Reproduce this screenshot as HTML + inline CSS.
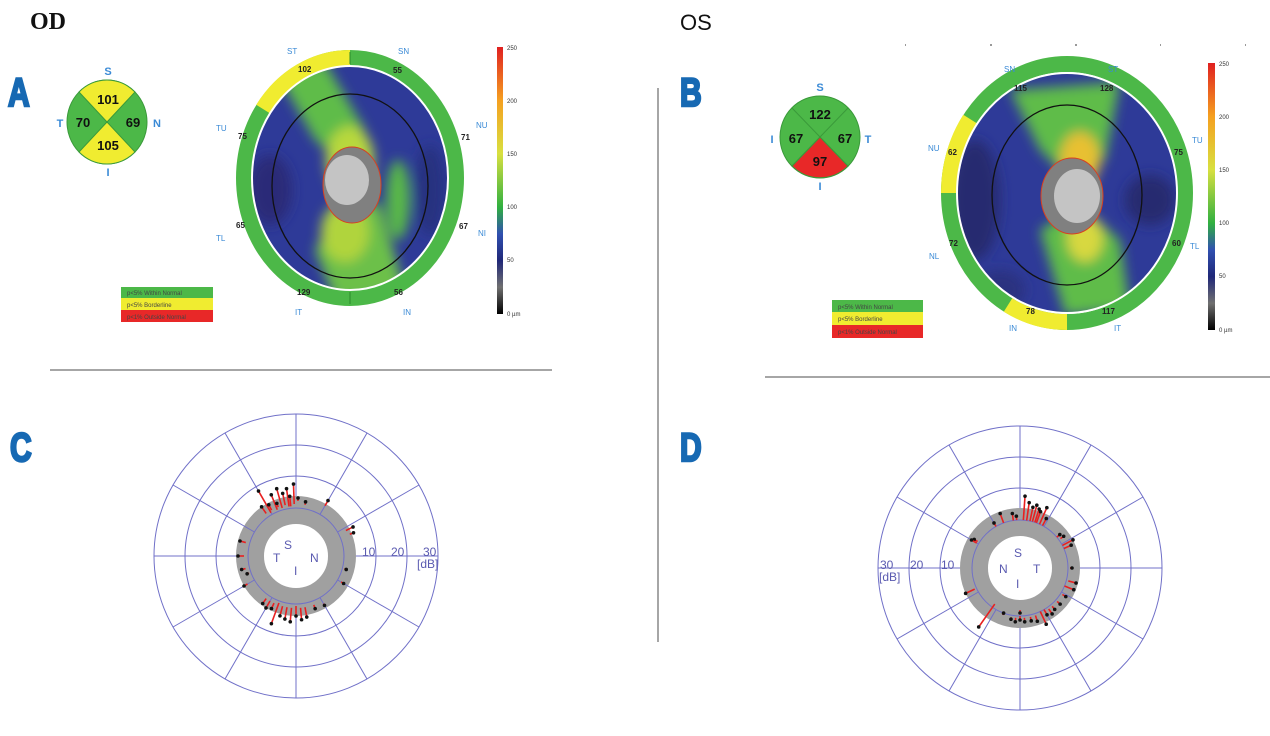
<!DOCTYPE html>
<html><head><meta charset="utf-8"><style>
html,body{margin:0;padding:0;background:#fff;width:1270px;height:736px;overflow:hidden}
svg{display:block}
.lab{font-family:"Liberation Sans Narrow","Liberation Sans",sans-serif;font-weight:bold;fill:#1769b3;stroke:#1769b3;stroke-width:2.5;font-size:40px}
.sm{font-family:"Liberation Sans",sans-serif;font-size:8px;fill:#3a8ad6}
.num{font-family:"Liberation Sans",sans-serif;font-size:8px;fill:#222;font-weight:bold}
.q{font-family:"Liberation Sans",sans-serif;font-size:13px;fill:#111;font-weight:bold;text-anchor:middle}
.ql{font-family:"Liberation Sans",sans-serif;font-size:11px;fill:#3a8ad6;font-weight:bold;text-anchor:middle}
.cb{font-family:"Liberation Sans",sans-serif;font-size:6px;fill:#333}
.pl{font-family:"Liberation Sans",sans-serif;font-size:12px;fill:#5a5ab0}
.lg{font-family:"Liberation Sans",sans-serif;font-size:6px;fill:#444}
</style></head><body>
<svg id="s" width="1270" height="736" viewBox="0 0 1270 736" xmlns="http://www.w3.org/2000/svg">
<defs>
<linearGradient id="cbar" x1="0" y1="0" x2="0" y2="1">
<stop offset="0" stop-color="#e02020"/><stop offset="0.2" stop-color="#f5a020"/><stop offset="0.4" stop-color="#d8e040"/><stop offset="0.6" stop-color="#30b040"/><stop offset="0.7" stop-color="#3050b0"/><stop offset="0.8" stop-color="#202878"/><stop offset="0.9" stop-color="#707070"/><stop offset="1" stop-color="#000"/>
</linearGradient>
<filter id="bl" x="-30%" y="-30%" width="160%" height="160%"><feGaussianBlur stdDeviation="6"/></filter>
<clipPath id="cA"><ellipse cx="350" cy="178" rx="98" ry="112"/></clipPath>
<clipPath id="cB"><ellipse cx="1067" cy="193" rx="110" ry="120"/></clipPath>
</defs>

<text x="30" y="29" font-family="Liberation Serif" font-size="24" font-weight="bold" fill="#111">OD</text>
<text x="680" y="30" font-family="Liberation Sans" font-size="22" fill="#111">OS</text>
<text class="lab" x="8" y="106" transform="translate(8,106) scale(0.75,1) translate(-8,-106)">A</text>
<text class="lab" x="680" y="106" transform="translate(680,106) scale(0.75,1) translate(-680,-106)">B</text>
<text class="lab" x="10" y="461" transform="translate(10,461) scale(0.75,1) translate(-10,-461)">C</text>
<text class="lab" x="680" y="461" transform="translate(680,461) scale(0.75,1) translate(-680,-461)">D</text>

<line x1="658" y1="88" x2="658" y2="642" stroke="#888" stroke-width="1.5"/>
<line x1="50" y1="370" x2="552" y2="370" stroke="#888" stroke-width="1.5"/>
<line x1="765" y1="377" x2="1270" y2="377" stroke="#888" stroke-width="1.5"/>
<g fill="#999"><rect x="905" y="44" width="1" height="2"/><rect x="990" y="44" width="2" height="2"/><rect x="1075" y="44" width="2" height="2"/><rect x="1160" y="44" width="1" height="2"/><rect x="1245" y="44" width="1" height="2"/></g>

<!-- Quadrant A -->
<g>
<ellipse cx="107" cy="122" rx="40" ry="42" fill="#4cb848" stroke="#3a9a3a"/>
<path d="M107 122 L79 92 A40 42 0 0 1 135 92 Z" fill="#f0ec30" stroke="#3a9a3a"/>
<path d="M107 122 L79 152 A40 42 0 0 0 135 152 Z" fill="#f0ec30" stroke="#3a9a3a"/>
<text class="q" x="108" y="104">101</text><text class="q" x="83" y="127">70</text><text class="q" x="133" y="127">69</text><text class="q" x="108" y="150">105</text>
<text class="ql" x="108" y="75">S</text><text class="ql" x="60" y="127">T</text><text class="ql" x="157" y="127">N</text><text class="ql" x="108" y="176">I</text>
</g>
<!-- Quadrant B -->
<g>
<ellipse cx="820" cy="137" rx="40" ry="41" fill="#4cb848" stroke="#3a9a3a"/>
<path d="M820 137 L792 166 A40 41 0 0 0 848 166 Z" fill="#e82828" stroke="#3a9a3a"/>
<line x1="792" y1="108" x2="848" y2="166" stroke="#3a9a3a"/><line x1="848" y1="108" x2="792" y2="166" stroke="#3a9a3a"/>
<text class="q" x="820" y="119">122</text><text class="q" x="796" y="143">67</text><text class="q" x="845" y="143">67</text><text class="q" x="820" y="166">97</text>
<text class="ql" x="820" y="91">S</text><text class="ql" x="772" y="143">I</text><text class="ql" x="868" y="143">T</text><text class="ql" x="820" y="190">I</text>
</g>

<!-- Heatmap A -->
<ellipse cx="350" cy="178" rx="106" ry="120" fill="none" stroke="#4cb848" stroke-width="16"/>
<path d="M350 58 A106 120 0 0 0 263 109" fill="none" stroke="#f0ec30" stroke-width="16"/>
<ellipse cx="350" cy="178" rx="98" ry="112" fill="#fff"/>
<g clip-path="url(#cA)">
<ellipse cx="350" cy="178" rx="98" ry="112" fill="#2e3a98"/>
<g filter="url(#bl)">
<polygon points="275,70 325,62 365,130 350,170 315,140" fill="#5ebc48"/>
<polygon points="315,250 345,195 380,205 405,290 360,300 335,300" fill="#6cc048"/>
<ellipse cx="350" cy="160" rx="24" ry="34" fill="#b8d83c"/>
<ellipse cx="345" cy="232" rx="24" ry="30" fill="#b0d43c"/>
<ellipse cx="398" cy="200" rx="12" ry="40" fill="#58b848"/>
<ellipse cx="270" cy="190" rx="22" ry="35" fill="#2a2c78"/>
<ellipse cx="430" cy="190" rx="15" ry="45" fill="#283080"/>
</g>
</g>
<ellipse cx="350" cy="178" rx="98" ry="112" fill="none" stroke="#fff" stroke-width="2"/>
<ellipse cx="350" cy="186" rx="78" ry="92" fill="none" stroke="#111" stroke-width="1.3"/>
<ellipse cx="352" cy="185" rx="29" ry="38" fill="#808080" stroke="#d84020" stroke-width="1"/>
<ellipse cx="347" cy="180" rx="22" ry="25" fill="#c4c4c4"/>
<line x1="350" y1="52" x2="350" y2="64" stroke="#2a8a2a"/><line x1="350" y1="292" x2="350" y2="304" stroke="#2a8a2a"/>
<text class="sm" x="287" y="54">ST</text><text class="sm" x="398" y="54">SN</text><text class="sm" x="216" y="131">TU</text><text class="sm" x="476" y="128">NU</text>
<text class="sm" x="216" y="241">TL</text><text class="sm" x="478" y="236">NI</text><text class="sm" x="295" y="315">IT</text><text class="sm" x="403" y="315">IN</text>
<text class="num" x="298" y="72">102</text><text class="num" x="393" y="73">55</text><text class="num" x="238" y="139">75</text><text class="num" x="461" y="140">71</text>
<text class="num" x="236" y="228">65</text><text class="num" x="459" y="229">67</text><text class="num" x="297" y="295">129</text><text class="num" x="394" y="295">56</text>
<rect x="497" y="47" width="6" height="267" fill="url(#cbar)"/>
<text class="cb" x="507" y="50">250</text><text class="cb" x="507" y="103">200</text><text class="cb" x="507" y="156">150</text><text class="cb" x="507" y="209">100</text><text class="cb" x="507" y="262">50</text><text class="cb" x="507" y="316">0 µm</text>
<rect x="121" y="287" width="92" height="11" fill="#4cb848"/><rect x="121" y="298" width="92" height="12" fill="#f0ec30"/><rect x="121" y="310" width="92" height="12" fill="#e82828"/>
<text class="lg" x="127" y="295">p&lt;5% Within Normal</text><text class="lg" x="127" y="307">p&lt;5% Borderline</text><text class="lg" x="127" y="319">p&lt;1% Outside Normal</text>

<!-- Heatmap B -->
<ellipse cx="1067" cy="193" rx="118" ry="129" fill="none" stroke="#4cb848" stroke-width="16"/>
<path d="M970 119 A118 129 0 0 0 949 193" fill="none" stroke="#f0ec30" stroke-width="16"/>
<path d="M1008 305 A118 129 0 0 0 1067 322" fill="none" stroke="#f0ec30" stroke-width="16"/>
<ellipse cx="1067" cy="193" rx="110" ry="120" fill="#fff"/>
<g clip-path="url(#cB)">
<ellipse cx="1067" cy="193" rx="110" ry="120" fill="#2e3a98"/>
<g filter="url(#bl)">
<polygon points="1010,90 1120,82 1105,160 1070,180 1040,150" fill="#5ebc48"/>
<polygon points="1040,230 1080,205 1120,240 1130,310 1065,315" fill="#5ebc48"/>
<ellipse cx="1080" cy="160" rx="20" ry="28" fill="#e8c030"/>
<ellipse cx="1085" cy="238" rx="18" ry="24" fill="#d8d840"/>
<ellipse cx="975" cy="200" rx="25" ry="60" fill="#262a70"/>
<ellipse cx="1150" cy="200" rx="25" ry="25" fill="#262a70"/>
<ellipse cx="1000" cy="290" rx="25" ry="20" fill="#2a3080"/>
</g>
</g>
<ellipse cx="1067" cy="193" rx="110" ry="120" fill="none" stroke="#fff" stroke-width="2"/>
<ellipse cx="1067" cy="195" rx="75" ry="90" fill="none" stroke="#111" stroke-width="1.3"/>
<ellipse cx="1072" cy="196" rx="31" ry="38" fill="#808080" stroke="#d84020"/>
<ellipse cx="1077" cy="196" rx="23" ry="27" fill="#c4c4c4"/>
<text class="sm" x="1004" y="72">SN</text><text class="sm" x="1108" y="72">ST</text><text class="sm" x="928" y="151">NU</text><text class="sm" x="1192" y="143">TU</text>
<text class="sm" x="929" y="259">NL</text><text class="sm" x="1190" y="249">TL</text><text class="sm" x="1009" y="331">IN</text><text class="sm" x="1114" y="331">IT</text>
<text class="num" x="1014" y="91">115</text><text class="num" x="1100" y="91">128</text><text class="num" x="948" y="155">62</text><text class="num" x="1174" y="155">75</text>
<text class="num" x="949" y="246">72</text><text class="num" x="1172" y="246">60</text><text class="num" x="1026" y="314">78</text><text class="num" x="1102" y="314">117</text>
<rect x="1208" y="63" width="7" height="267" fill="url(#cbar)"/>
<text class="cb" x="1219" y="66">250</text><text class="cb" x="1219" y="119">200</text><text class="cb" x="1219" y="172">150</text><text class="cb" x="1219" y="225">100</text><text class="cb" x="1219" y="278">50</text><text class="cb" x="1219" y="332">0 µm</text>
<rect x="832" y="300" width="91" height="12" fill="#4cb848"/><rect x="832" y="312" width="91" height="13" fill="#f0ec30"/><rect x="832" y="325" width="91" height="13" fill="#e82828"/>
<text class="lg" x="838" y="309">p&lt;5% Within Normal</text><text class="lg" x="838" y="321">p&lt;5% Borderline</text><text class="lg" x="838" y="334">p&lt;1% Outside Normal</text>

<g id="pc"></g>
<g id="pd"></g>
<text class="pl" x="362" y="556">10</text><text class="pl" x="391" y="556">20</text><text class="pl" x="423" y="556">30</text><text class="pl" x="417" y="568" font-size="11">[dB]</text>
<text class="pl" x="284" y="549" font-size="13">S</text><text class="pl" x="273" y="562" font-size="13">T</text><text class="pl" x="310" y="562" font-size="13">N</text><text class="pl" x="294" y="575" font-size="13">I</text>
<text class="pl" x="880" y="569">30</text><text class="pl" x="910" y="569">20</text><text class="pl" x="941" y="569">10</text><text class="pl" x="879" y="581" font-size="11">[dB]</text>
<text class="pl" x="1014" y="557" font-size="13">S</text><text class="pl" x="999" y="573" font-size="13">N</text><text class="pl" x="1033" y="573" font-size="13">T</text><text class="pl" x="1016" y="588" font-size="13">I</text>
</svg>
<script>
var NS="http://www.w3.org/2000/svg";
function el(p,t,a){var e=document.createElementNS(NS,t);for(var k in a)e.setAttribute(k,a[k]);p.appendChild(e);return e;}
function polar(id,cx,cy,pts){
 var g=document.getElementById(id);
 el(g,"circle",{cx:cx,cy:cy,r:46,fill:"none",stroke:"#a0a0a0","stroke-width":28});
 [48,80,111,142].forEach(function(r){el(g,"circle",{cx:cx,cy:cy,r:r,fill:"none",stroke:"#7070c8","stroke-width":1});});
 for(var a=0;a<360;a+=30){var t=a*Math.PI/180;var r0=(a%90==0)?60:48;
  el(g,"line",{x1:cx+r0*Math.cos(t),y1:cy-r0*Math.sin(t),x2:cx+142*Math.cos(t),y2:cy-142*Math.sin(t),stroke:"#7070c8","stroke-width":1});}
 pts.forEach(function(p){var t=p[0]*Math.PI/180;
  var x1=cx+p[1]*Math.cos(t),y1=cy-p[1]*Math.sin(t),x2=cx+p[2]*Math.cos(t),y2=cy-p[2]*Math.sin(t);
  el(g,"line",{x1:x1,y1:y1,x2:x2,y2:y2,stroke:"#e82020","stroke-width":1.6});
  el(g,"circle",{cx:x2,cy:y2,r:1.8,fill:"#111"});});
}
polar("pc",296,556,[[120,50,75],[112,50,66],[106,50,70],[102,52,64],[98,50,68],[96,50,60],[92,52,72],[88,55,58],[125,52,60],[118,52,58],[110,52,56],[60,58,64],[80,52,55],[27,56,64],[22,58,62],[165,52,58],[180,52,58],[194,52,56],[200,50,52],[210,56,60],[235,52,58],[240,52,60],[245,52,58],[250,50,72],[255,52,62],[260,52,64],[265,52,66],[270,50,60],[275,52,64],[280,52,62],[290,52,56],[300,55,57],[330,52,55],[345,50,52]]);
polar("pd",1020,568,[[86,48,72],[82,48,66],[78,48,62],[75,48,65],[72,48,62],[70,48,60],[66,48,66],[62,48,56],[94,48,52],[98,48,55],[110,48,58],[120,48,52],[148,50,54],[150,50,56],[40,48,52],[36,50,54],[28,48,60],[24,48,56],[0,50,52],[-15,50,58],[-22,48,58],[-32,50,54],[-42,50,54],[-50,50,54],[-55,50,56],[-60,48,54],[-65,48,62],[-72,50,56],[-78,50,54],[-85,50,54],[-90,48,52],[-95,50,54],[-100,50,52],[235,44,72],[205,50,60],[250,50,48],[270,42,45]]);
</script>
</body></html>
